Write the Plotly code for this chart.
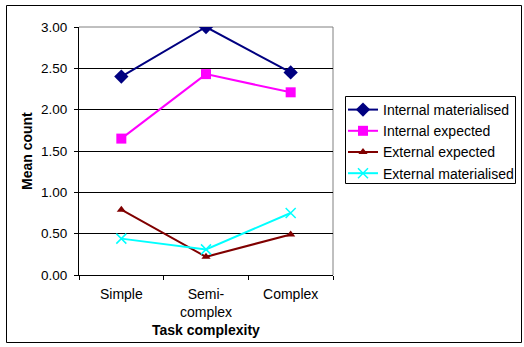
import plotly.graph_objects as go

# Task complexity categories and mean counts per series
categories = ["Simple", "Semi-<br>complex", "Complex"]
internal_materialised = [2.40, 3.00, 2.45]
internal_expected = [1.65, 2.43, 2.21]
external_expected = [0.79, 0.22, 0.49]
external_materialised = [0.44, 0.31, 0.75]
y_ticks = [0, 0.5, 1.0, 1.5, 2.0, 2.5, 3.0]

FONT = "Liberation Sans, Arial, sans-serif"

series = [
    ("Internal materialised", internal_materialised, "#000080", "diamond", 11, 2),
    ("Internal expected", internal_expected, "#FF00FF", "square", 10, 2),
    ("External expected", external_expected, "#800000", "triangle-up", 8, 2),
    ("External materialised", external_materialised, "#00FFFF", "x-thin", 10, 2),
]

fig = go.Figure()
for name, vals, color, symbol, msize, lw in series:
    marker = dict(symbol=symbol, size=msize, color=color)
    if symbol == "x-thin":
        marker["line"] = dict(color=color, width=1.5)
    fig.add_trace(go.Scatter(
        x=categories, y=vals, name=name, mode="lines+markers",
        line=dict(color=color, width=lw), marker=marker,
    ))

L, T, R, B = 79, 27, 191, 72
W, H = 524, 347
pw, ph = W - L - R, H - T - B

def px_to_paper_x(px):
    return (px - L) / pw

def px_to_paper_y(py):
    return (H - B - py) / ph

fig.update_layout(
    width=W, height=H,
    margin=dict(l=L, r=R, t=T, b=B, pad=0, autoexpand=False),
    paper_bgcolor="white", plot_bgcolor="white",
    font=dict(family=FONT, size=13.5, color="black"),
    showlegend=True,
    legend=dict(
        x=px_to_paper_x(343), y=px_to_paper_y(94),
        xanchor="left", yanchor="top",
        borderwidth=0, bgcolor="rgba(0,0,0,0)",
        font=dict(family=FONT, size=14, color="black"),
        itemwidth=30,
    ),
    xaxis=dict(
        type="category", tickson="boundaries",
        showline=True, linecolor="black", linewidth=1,
        ticks="outside", ticklen=4, tickcolor="black",
        showgrid=False, tickfont=dict(size=14),
        range=[-0.5, 2.5], ticklabelstandoff=6,
    ),
    yaxis=dict(
        range=[0, 3], tickvals=y_ticks, tickformat=".2f",
        showline=True, linecolor="black", linewidth=1,
        ticks="outside", ticklen=4, tickcolor="black",
        showgrid=True, gridcolor="black", gridwidth=1,
        zeroline=False, tickfont=dict(size=13.5),
        ticklabelstandoff=4,
    ),
    shapes=[
        # grey plot-area border on the top and right
        dict(type="line", xref="paper", yref="paper", x0=0, x1=1, y0=1, y1=1,
             line=dict(color="#808080", width=1), layer="between"),
        dict(type="line", xref="paper", yref="paper", x0=1, x1=1, y0=0, y1=1,
             line=dict(color="#808080", width=1), layer="between"),
        # legend frame
        dict(type="rect", xref="paper", yref="paper",
             x0=px_to_paper_x(345.5), x1=px_to_paper_x(515.5),
             y0=px_to_paper_y(183.5), y1=px_to_paper_y(96.5),
             line=dict(color="black", width=1), fillcolor="rgba(0,0,0,0)"),
        # outer chart frame
        dict(type="rect", xref="paper", yref="paper",
             x0=px_to_paper_x(6.5), x1=px_to_paper_x(521.5),
             y0=px_to_paper_y(342.5), y1=px_to_paper_y(5.5),
             line=dict(color="black", width=1), fillcolor="rgba(0,0,0,0)"),
    ],
    annotations=[
        dict(text="<b>Mean count</b>", xref="paper", yref="paper",
             x=px_to_paper_x(27), y=0.5, textangle=-90, showarrow=False,
             xanchor="center", yanchor="middle", font=dict(size=14)),
        dict(text="<b>Task complexity</b>", xref="paper", yref="paper",
             x=0.5, y=px_to_paper_y(330), showarrow=False,
             xanchor="center", yanchor="middle", font=dict(size=14)),
    ],
)

fig.write_html("out.html")
